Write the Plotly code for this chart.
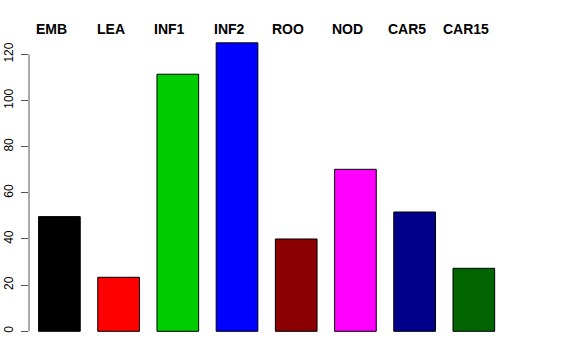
import plotly.graph_objects as go

categories = ["EMB", "LEA", "INF1", "INF2", "ROO", "NOD", "CAR5", "CAR15"]
values = [49.7, 23.4, 111.4, 125.0, 40.0, 70.2, 51.7, 27.3]
colors = ["#000000", "#FF0000", "#00CD00", "#0000FF", "#8B0000", "#FF00FF", "#00008B", "#006400"]
y_ticks = [0, 20, 40, 60, 80, 100, 120]

xpos = list(range(len(categories)))

fig = go.Figure()
fig.add_trace(go.Bar(
    x=xpos, y=values, width=0.704,
    marker=dict(color=colors, line=dict(color="#000000", width=1)),
    showlegend=False, hoverinfo="skip",
))

for i, c in enumerate(categories):
    fig.add_annotation(x=i - 0.135, y=130.8, xref="x", yref="y", text="<b>" + c + "</b>",
                       showarrow=False, xanchor="center", yanchor="middle",
                       font=dict(family="Liberation Sans, Arial, sans-serif", size=14, color="#000000"))

fig.add_shape(type="line", xref="paper", yref="y", x0=0, x1=0, y0=0, y1=120,
              line=dict(color="#555555", width=1))

fig.update_layout(
    width=576, height=360,
    margin=dict(l=29, r=29, t=20, b=20, autoexpand=False),
    paper_bgcolor="white", plot_bgcolor="white",
    font=dict(family="Liberation Sans, Arial, sans-serif", color="#000000"),
    xaxis=dict(range=[-0.5135, 8.236], visible=False, automargin=False),
    yaxis=dict(range=[-3.77, 134.9], tickvals=y_ticks, ticktext=[str(v) for v in y_ticks],
               ticks="outside", ticklen=7, tickcolor="#555555", tickwidth=1,
               tickangle=-90, showgrid=False, zeroline=False, showline=False,
               automargin=False, ticklabelstandoff=3,
               tickfont=dict(size=12, color="#000000")),
)

fig.write_html("out.html", config={"displayModeBar": False},
               post_script="document.body.style.margin='0';")
